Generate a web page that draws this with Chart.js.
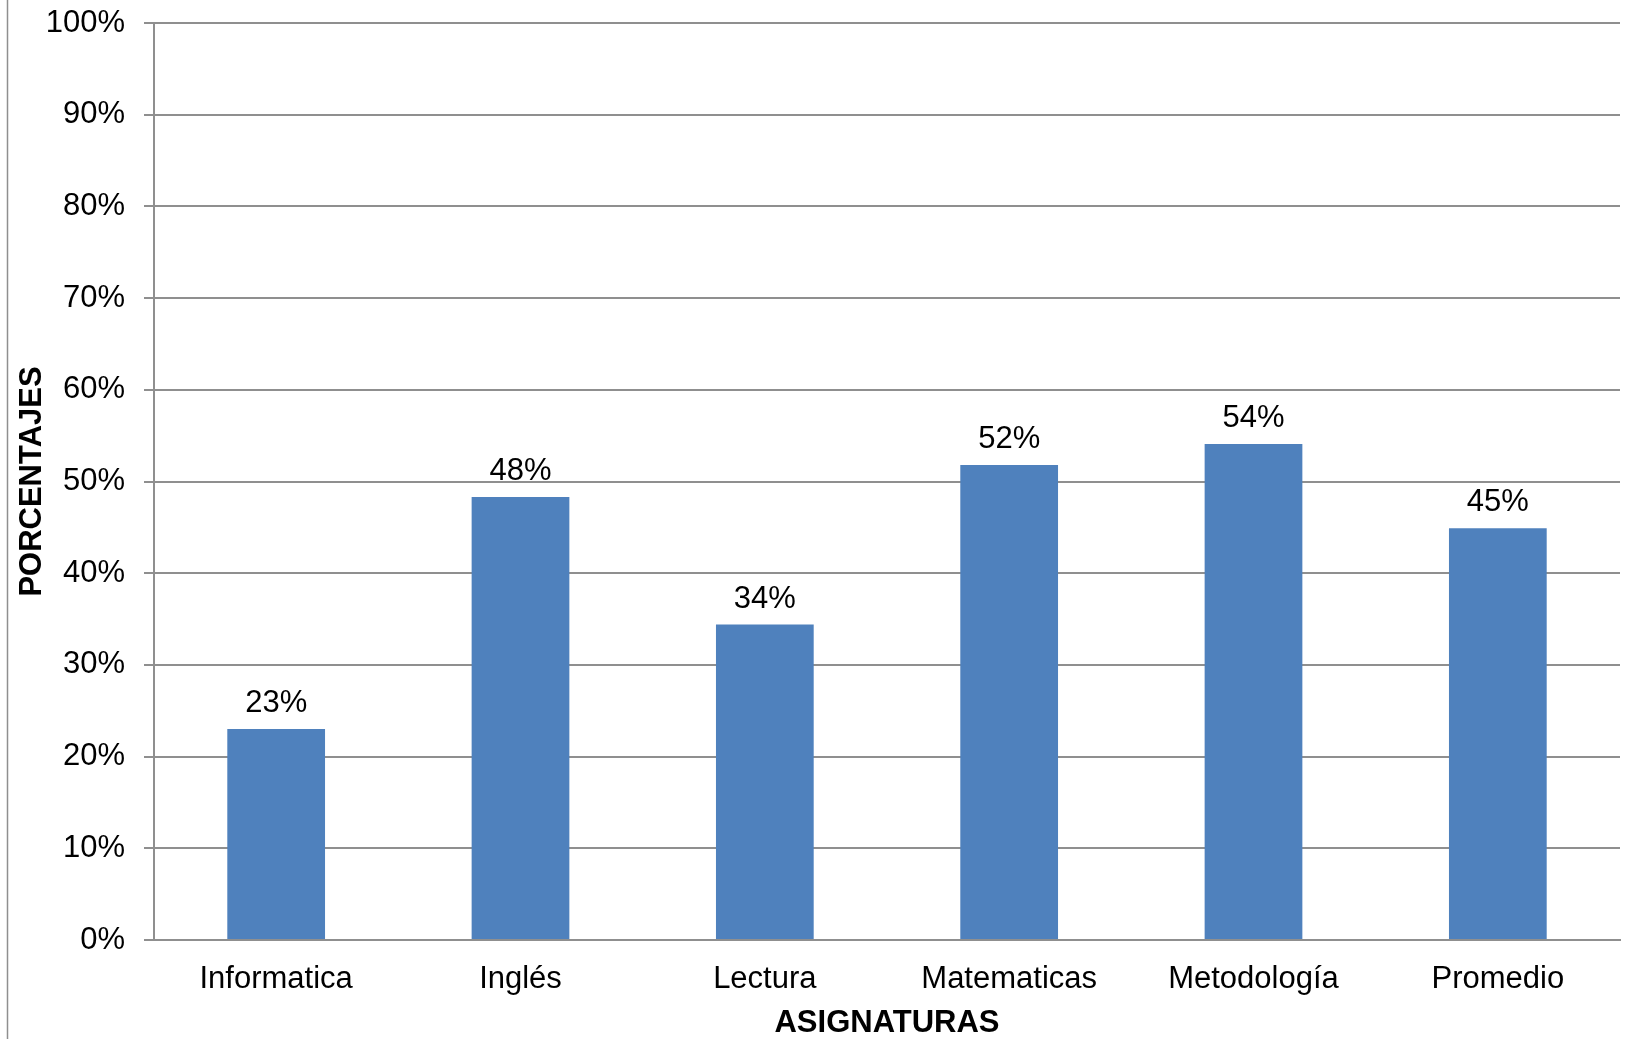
<!DOCTYPE html>
<html lang="es">
<head>
<meta charset="utf-8">
<title>Porcentajes por asignatura</title>
<script src="https://cdn.jsdelivr.net/npm/chart.js@4.4.1/dist/chart.umd.min.js"></script>
<style>
  html, body { margin: 0; padding: 0; background: #ffffff; }
  canvas { display: block; }
</style>
</head>
<body>
<canvas id="grafico" width="1630" height="1039"></canvas>
<script>
// Asignaturas y porcentaje obtenido en cada una
const asignaturas = ['Informatica', 'Inglés', 'Lectura', 'Matematicas', 'Metodología', 'Promedio'];
const porcentajes = [23.0, 48.3, 34.4, 51.8, 54.1, 44.9];

// Marcas del eje vertical
const ejeMin = 0;
const ejeMax = 100;
const ejePaso = 10;

const tituloY = 'PORCENTAJES';
const tituloX = 'ASIGNATURAS';

const FUENTE = '"Liberation Sans", Arial, Helvetica, sans-serif';
const GRIS = '#8f8f8f';

// Etiqueta de valor sobre cada barra
const etiquetasValor = {
  id: 'etiquetasValor',
  afterDatasetsDraw(chart) {
    const ctx = chart.ctx;
    const meta = chart.getDatasetMeta(0);
    ctx.save();
    ctx.font = '31px ' + FUENTE;
    ctx.fillStyle = '#000000';
    ctx.textAlign = 'center';
    ctx.textBaseline = 'alphabetic';
    meta.data.forEach((barra, i) => {
      const v = chart.data.datasets[0].data[i];
      ctx.fillText(Math.round(v) + '%', barra.x, barra.y - 17);
    });
    ctx.restore();
  }
};

// Línea vertical del marco a la izquierda
const marcoIzquierdo = {
  id: 'marcoIzquierdo',
  afterDraw(chart) {
    const ctx = chart.ctx;
    ctx.save();
    ctx.strokeStyle = GRIS;
    ctx.lineWidth = 1.5;
    ctx.beginPath();
    ctx.moveTo(7.5, 0);
    ctx.lineTo(7.5, chart.height);
    ctx.stroke();
    ctx.restore();
  }
};

new Chart(document.getElementById('grafico'), {
  type: 'bar',
  data: {
    labels: asignaturas,
    datasets: [{
      data: porcentajes,
      backgroundColor: '#4f81bd',
      borderWidth: 0,
      categoryPercentage: 1.0,
      barPercentage: 0.4
    }]
  },
  options: {
    responsive: false,
    animation: false,
    layout: { padding: { left: 11, right: 10, top: 23, bottom: 0 } },
    plugins: {
      legend: { display: false },
      tooltip: { enabled: false }
    },
    scales: {
      x: {
        grid: { display: false },
        border: { display: true, color: GRIS, width: 2 },
        ticks: {
          color: '#000000',
          font: { family: FUENTE, size: 31 },
          padding: 13,
          maxRotation: 0,
          autoSkip: false
        },
        title: {
          display: true,
          text: tituloX,
          color: '#000000',
          font: { family: FUENTE, size: 31, weight: 'bold', lineHeight: 1.0 },
          padding: { top: 0, bottom: 0 }
        },
        afterFit(scale) { scale.height = 99; }
      },
      y: {
        min: ejeMin,
        max: ejeMax,
        grid: {
          color: GRIS,
          lineWidth: 2,
          drawTicks: true,
          tickLength: 10
        },
        border: { display: true, color: GRIS, width: 2 },
        ticks: {
          stepSize: ejePaso,
          color: '#000000',
          font: { family: FUENTE, size: 31 },
          padding: 19,
          callback: (v) => v + '%'
        },
        title: {
          display: true,
          text: tituloY,
          color: '#000000',
          font: { family: FUENTE, size: 31, weight: 'bold' },
          padding: { top: 3, bottom: 0 }
        },
        afterFit(scale) {
          scale.width = 143;
          scale.paddingTop = 0;
          scale.paddingBottom = 0;
        }
      }
    }
  },
  plugins: [etiquetasValor, marcoIzquierdo]
});
</script>
</body>
</html>
